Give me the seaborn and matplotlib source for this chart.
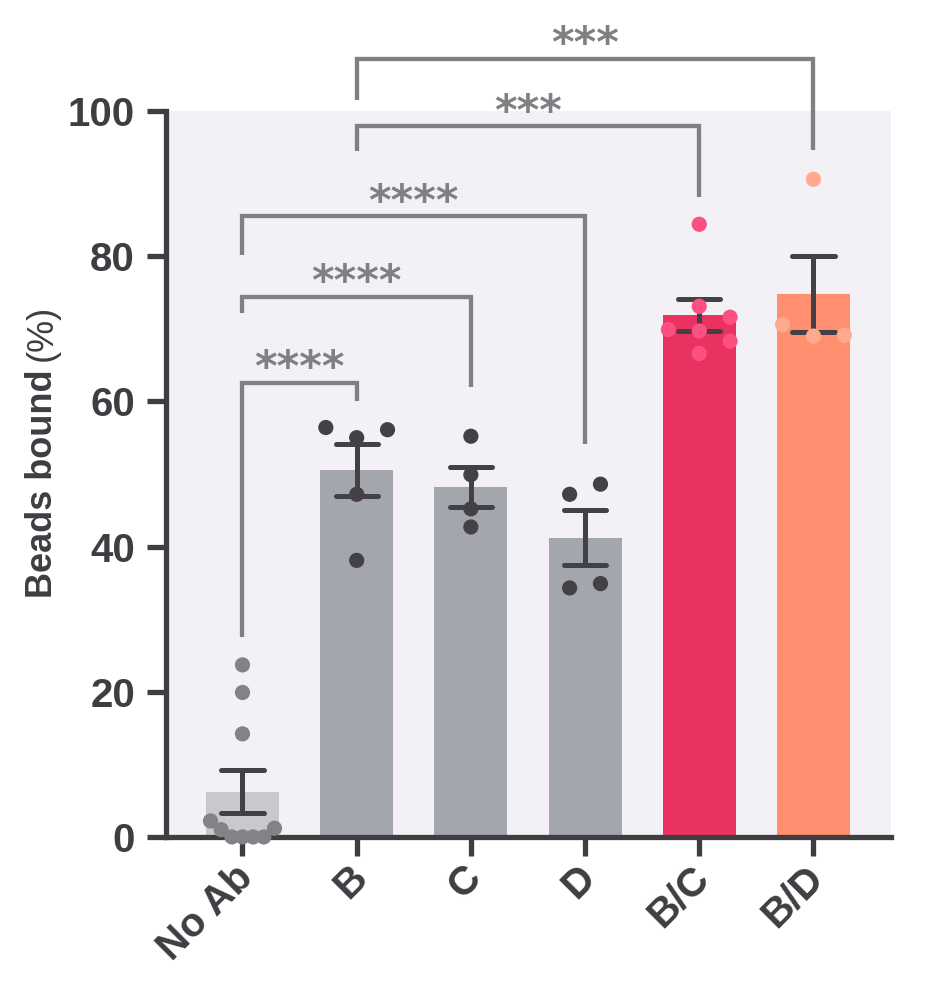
import numpy as np
import pandas as pd
import seaborn as sns
import matplotlib.pyplot as plt
from matplotlib.transforms import ScaledTranslation

# groups and the individual replicate values (% beads bound)
groups = ["No Ab", "B", "C", "D", "B/C", "B/D"]
no_ab_vals = [23.7, 19.9, 14.2, 2.2, 1.2, 1.0, 0.0, 0.0, 0.0, 0.0]
b_vals = [56.4, 56.1, 55.0, 47.2, 38.1]
c_vals = [55.2, 49.9, 45.2, 42.7]
d_vals = [48.6, 47.2, 34.9, 34.3]
bc_vals = [84.4, 73.1, 71.6, 69.9, 69.7, 68.3, 66.6]
bd_vals = [90.6, 70.6, 69.1, 69.0]

bar_colors = ["#c8c8cd", "#a4a6ad", "#a4a6ad", "#a4a6ad", "#e9325f", "#ff8f6e"]
point_colors = ["#838286", "#434146", "#434146", "#434146", "#fd4f80", "#ffa98f"]

# significance brackets: left group, right group, bar height, leg ends, label
cmp_left = [0, 0, 0, 1, 1]
cmp_right = [1, 2, 3, 4, 5]
cmp_height = [62.6, 74.4, 85.5, 97.9, 107.2]
cmp_left_end = [27.5, 72.2, 80.1, 94.5, 101.5]
cmp_right_end = [60.1, 62.0, 54.2, 88.2, 94.6]
cmp_label = ["****", "****", "****", "***", "***"]

DARK = "#3f3d42"
GREY = "#807f83"


def spread_offsets(vals, step=0.27, max_half=0.28, gap=2.3):
    # column scatter: points close in y go into side-by-side slots
    vals = np.asarray(vals, dtype=float)
    order = np.argsort(vals, kind="stable")
    slot_order = [0, 1, -1, 2, -2, 3, -3, 4, -4]
    slots = np.zeros(len(vals))
    placed = []
    for i in order:
        for sl in slot_order:
            if all(not (slots[j] == sl and abs(vals[j] - vals[i]) < gap)
                   for j in placed):
                slots[i] = sl
                break
        placed.append(i)
    # centre each chain of neighbouring points
    chain = [order[0]]
    chains = []
    for a, b in zip(order[:-1], order[1:]):
        if vals[b] - vals[a] < gap:
            chain.append(b)
        else:
            chains.append(chain)
            chain = [b]
    chains.append(chain)
    for c in chains:
        s = slots[c]
        slots[c] = s - (s.min() + s.max()) / 2
    m = np.abs(slots).max()
    s = step if m == 0 else min(step, max_half / m)
    return slots * s


all_vals = [no_ab_vals, b_vals, c_vals, d_vals, bc_vals, bd_vals]
rows = []
for gi, (g, vals) in enumerate(zip(groups, all_vals)):
    offs = spread_offsets(vals)
    for v, o in zip(vals, offs):
        rows.append({"group": g, "value": v, "xpos": gi + o})
df = pd.DataFrame(rows)

sns.set_style("ticks")
plt.rcParams["font.family"] = ["Liberation Sans", "DejaVu Sans"]

fig = plt.figure(figsize=(4.66, 4.97), dpi=200)
ax = fig.add_axes([0.1781, 0.158, 0.778, 0.7303])
ax.set_facecolor("#f3f1f5")

sns.barplot(data=df, x="group", y="value", hue="group", order=groups,
            hue_order=groups, palette=bar_colors, legend=False, width=0.64,
            errorbar="se", capsize=0.37, linewidth=0, saturation=1,
            err_kws={"color": "#434146", "linewidth": 1.8}, ax=ax)

sns.scatterplot(data=df, x="xpos", y="value", hue="group", hue_order=groups,
                palette=point_colors, s=30, linewidth=0, legend=False,
                zorder=4, clip_on=False, ax=ax)

# brackets
for li, ri, h, le, re_, lab in zip(cmp_left, cmp_right, cmp_height,
                                    cmp_left_end, cmp_right_end, cmp_label):
    ax.plot([li, li, ri, ri], [le, h, h, re_], color=GREY, lw=1.55,
            solid_joinstyle="miter", solid_capstyle="butt", clip_on=False,
            zorder=3)
    ax.text((li + ri) / 2, h + 0.2, lab, ha="center", va="baseline",
            fontsize=15.5, fontweight="bold", color=GREY,
            family="DejaVu Sans", clip_on=False)

ax.set_xlim(-0.67, 5.68)
ax.set_ylim(0, 100)
ax.set_yticks([0, 20, 40, 60, 80, 100])
ax.set_xlabel("")
ax.set_ylabel("")
sns.despine(ax=ax)
for side in ["left", "bottom"]:
    ax.spines[side].set_linewidth(1.9)
    ax.spines[side].set_color(DARK)
ax.tick_params(axis="both", length=7, width=1.9, color=DARK,
               labelcolor=DARK, labelsize=14.5)
ax.tick_params(axis="y", pad=4.2)
ax.tick_params(axis="x", pad=4)
for t in ax.get_yticklabels():
    t.set_fontweight("bold")
shift = ScaledTranslation(4 / 200, -4 / 200, fig.dpi_scale_trans)
for t in ax.get_xticklabels():
    t.set_fontweight("bold")
    t.set_rotation(45)
    t.set_ha("right")
    t.set_va("center")
    t.set_rotation_mode("anchor")
    t.set_transform(t.get_transform() + shift)

# y label: bold part and normal "(%)"
lab1 = fig.text(0.0558, 0.398, "Beads bound", rotation=90,
                rotation_mode="anchor", ha="left", va="baseline",
                fontsize=13, fontweight="bold", color=DARK)
fig.canvas.draw()
bb = lab1.get_window_extent(fig.canvas.get_renderer())
top = (bb.y1 + 9) / fig.bbox.height
fig.text(0.0558, top, "(%)", rotation=90, rotation_mode="anchor",
         ha="left", va="baseline", fontsize=13, color=DARK)

fig.savefig("out.png", dpi=200)
plt.close(fig)
